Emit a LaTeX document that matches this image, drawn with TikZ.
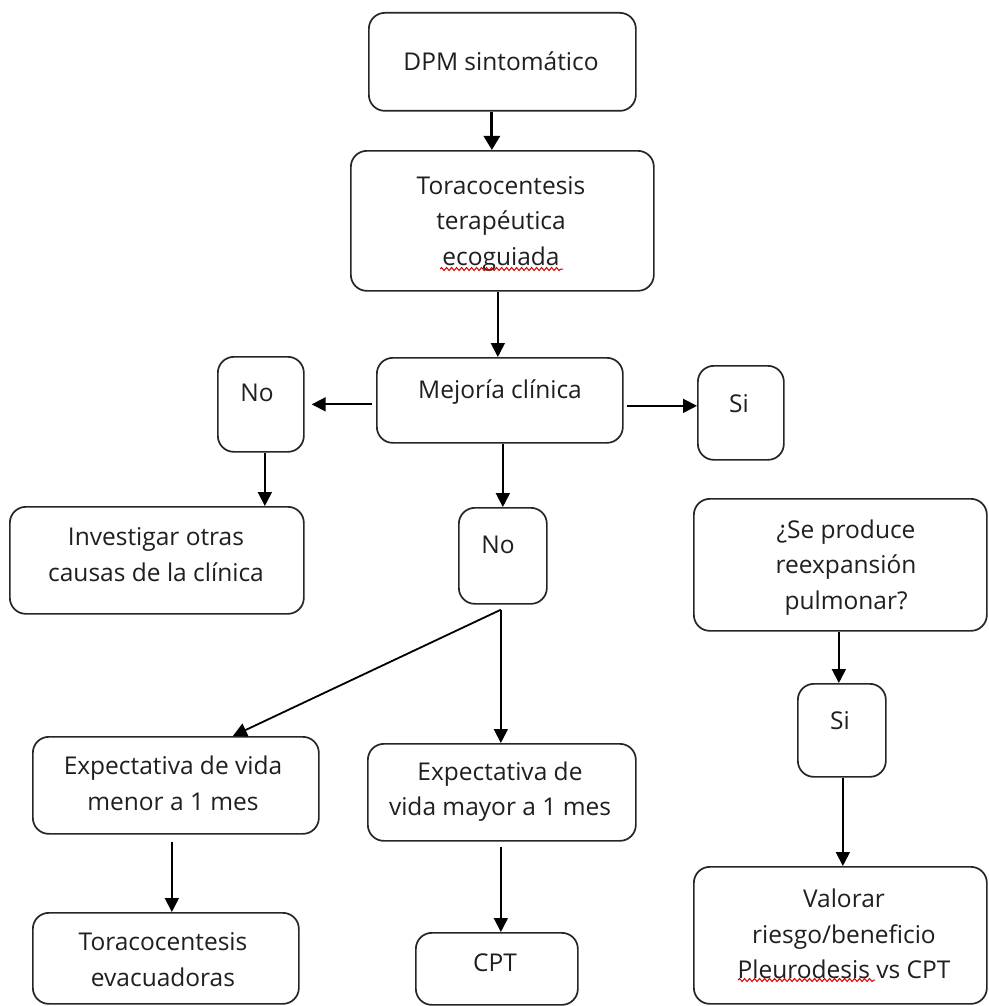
\documentclass[tikz,border=0pt]{standalone}
\usepackage{fontspec}
\setmainfont{Open Sans}
\usetikzlibrary{arrows.meta,decorations.pathmorphing,calc}
\tikzset{
  box/.style={draw=black!85, rounded corners=16pt, line width=1.7pt, inner sep=0pt, anchor=north west},
  txt/.style={font=\fontsize{24.5}{35.5}\selectfont, align=center, inner sep=0pt, text=black!88},
  arr/.style={draw=black, line width=1.8pt, -{Triangle[width=14pt,length=14pt]}},
  arrbig/.style={draw=black, line width=2.8pt, -{Triangle[width=16pt,length=14pt]}},
  spell/.style={draw=red!85!black, line width=1pt, decorate, decoration={snake, amplitude=1.5pt, segment length=5pt}}
}
\begin{document}
\begin{tikzpicture}[x=1pt,y=-1pt]
\fill[white] (0,0) rectangle (988,1006);
\useasboundingbox (0,0) rectangle (988,1006);

% boxes
\node[box, minimum width=267pt, minimum height=98pt]  (dpm)  at (368,12)  {};
\node[box, minimum width=303pt, minimum height=140pt] (tor)  at (350,150) {};
\node[box, minimum width=246pt, minimum height=85pt]  (mej)  at (376,357) {};
\node[box, minimum width=86pt,  minimum height=95pt]  (noL)  at (217,356) {};
\node[box, minimum width=86pt,  minimum height=94pt]  (si1)  at (697,365) {};
\node[box, minimum width=294pt, minimum height=107pt] (inv)  at (9,506)   {};
\node[box, minimum width=88pt,  minimum height=96pt]  (noM)  at (458,507) {};
\node[box, minimum width=293pt, minimum height=132pt] (se)   at (693,498) {};
\node[box, minimum width=88pt,  minimum height=93pt]  (si2)  at (797,683) {};
\node[box, minimum width=286pt, minimum height=97pt]  (expL) at (32,736)  {};
\node[box, minimum width=268pt, minimum height=97pt]  (expR) at (367,743) {};
\node[box, minimum width=266pt, minimum height=91pt]  (tev)  at (32,912)  {};
\node[box, minimum width=162pt, minimum height=72pt]  (cpt)  at (415,932) {};
\node[box, minimum width=293pt, minimum height=137pt] (val)  at (693,866) {};

% texts
\node[txt] (dpmT)  at (501,61)    {DPM sintomático};
\node[txt] (torT)  at (501,223.5) {Toracocentesis\\terapéutica\\ecoguiada};
\node[txt] (mejT)  at (500,392)   {Mejoría clínica};
\node[txt] (noLT)  at (257,393)   {No};
\node[txt] (si1T)  at (739,404)   {Si};
\node[txt] (invT)  at (156,554.5) {Investigar otras\\causas de la clínica};
\node[txt] (noMT)  at (498,545)   {No};
\node[txt] (seT)   at (846,567.5) {¿Se produce\\reexpansión\\pulmonar?};
\node[txt] (si2T)  at (840,721)   {Si};
\node[txt] (expLT) at (173,783.5) {Expectativa de vida\\menor a 1 mes};
\node[txt] (expRT) at (500,791.5) {Expectativa de\\vida mayor a 1 mes};
\node[txt] (tevT)  at (163,959.5) {Toracocentesis\\evacuadoras};
\node[txt] (cptT)  at (495,963)   {CPT};
\node[txt] (valT)  at (844,934)   {Valorar\\riesgo/beneficio\\Pleurodesis vs CPT};

% spell-check underlines
\draw[spell] (440,269) -- (563,269);
\draw[spell] (738,980) -- (875,980);

% connectors
\draw[arrbig] ([xshift=-10.5]dpm.south) -- ([xshift=-10.5]dpm.south |- tor.north);
\draw[arr] ([xshift=-4.5]tor.south) -- ([xshift=-4.5]tor.south |- mej.north);
\draw[arr] ([xshift=-4]mej.west |- noL.east) -- ([xshift=7]noL.east);
\draw[arr] ([xshift=3,yshift=-5.5]mej.east) -- ([yshift=-5.5]mej.east -| si1.west);
\draw[arr] ([xshift=4]noL.south) -- ([xshift=4]noL.south |- inv.north);
\draw[arr] ([xshift=3]mej.south) -- ([xshift=3]mej.south |- noM.north);
\coordinate (split) at ([xshift=-2,yshift=-5]noM.south);
\draw[arr] (split) -- ([xshift=57]expL.north);
\draw[arr] (split) -- (split |- expR.north);
\draw[arr] ([xshift=-4,yshift=-7]expL.south) -- ([xshift=-4]expL.south |- tev.north);
\draw[arr] ([xshift=-1,yshift=-5]expR.south) -- ([xshift=-1]expR.south |- cpt.north);
\draw[arr] ([xshift=-1.5]se.south) -- ([xshift=-1.5]se.south |- si2.north);
\draw[arr] ([xshift=1]si2.south) -- ([xshift=1]si2.south |- val.north);
\end{tikzpicture}
\end{document}
